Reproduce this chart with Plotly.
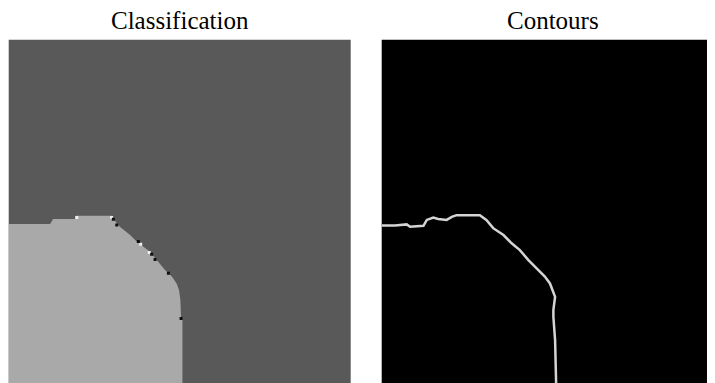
import plotly.graph_objects as go

# Image coordinates: 0..100 across each panel, v grows downward
# Classification: boundary of light class region (lower-left)
class_u = [0, 0, 12.1, 13.0, 19.4, 19.7, 30.1, 31.1, 32.5, 35.5, 37.4, 39.4, 41.3, 43.3,
           45.7, 47.7, 49.1, 49.8, 50.2, 50.4, 50.8, 50.8]
class_v = [100, 53.7, 53.7, 52.2, 52.2, 51.3, 51.3, 52.8, 54.5, 56.9, 58.8, 60.3, 61.8, 64.2,
           67.1, 69.0, 71.0, 72.9, 75.8, 81.1, 81.6, 100]

white_u = [19.9, 30.1, 38.6, 41.1]
white_v = [51.8, 51.8, 59.6, 62.0]
black_u = [30.6, 31.6, 37.9, 41.8, 42.8, 46.7, 50.4]
black_v = [52.3, 54.0, 58.8, 62.5, 64.0, 68.0, 81.2]

# Contour line
cont_u = [0, 3.9, 7.3, 8.3, 12.2, 13.2, 15.1, 16.5, 19.0, 20.5, 21.9, 28.7, 30.6, 32.6, 35.6,
          38.0, 40.4, 42.9, 45.3, 47.7, 49.2, 50.0, 50.7, 50.2, 50.2, 50.7, 51.0]
cont_v = [54.1, 54.1, 53.8, 54.5, 54.2, 52.5, 51.8, 52.2, 52.5, 51.6, 51.1, 51.1, 52.5, 54.9,
          56.9, 59.3, 61.3, 64.2, 66.6, 69.0, 71.0, 72.9, 74.9, 78.7, 80.7, 87.5, 100]

titles = ["Classification", "Contours"]

# page body has an 8px margin, so the figure is laid out 8px up/left
W, H = 707, 375
left1, right1 = 0.7, 342.7
left2 = 373.7
top = 31.7
panel_px = 342.0
title_mid = 12.5

fig = go.Figure()
fig.add_trace(go.Scatter(x=class_u, y=class_v, mode="lines", fill="toself",
                         fillcolor="#a9a9a9", line=dict(width=0, color="#a9a9a9"),
                         xaxis="x", yaxis="y", hoverinfo="skip", showlegend=False))
fig.add_trace(go.Scatter(x=white_u, y=white_v, mode="markers",
                         marker=dict(color="#f0f0f0", size=3, symbol="square"),
                         xaxis="x", yaxis="y", showlegend=False))
fig.add_trace(go.Scatter(x=black_u, y=black_v, mode="markers",
                         marker=dict(color="#101010", size=3, symbol="square"),
                         xaxis="x", yaxis="y", showlegend=False))
fig.add_trace(go.Scatter(x=cont_u, y=cont_v, mode="lines",
                         line=dict(color="#d4d4d4", width=2.5),
                         xaxis="x2", yaxis="y2", showlegend=False))

ydom = [0, (H - top) / H]
right_frac = (W - left2) / panel_px * 100
axis_common = dict(showgrid=False, zeroline=False, showticklabels=False, ticks="",
                   showline=False)
title_font = dict(family="Liberation Serif", size=25, color="black")
fig.update_layout(
    width=W, height=H, margin=dict(l=0, r=0, t=0, b=0),
    paper_bgcolor="white", plot_bgcolor="rgba(0,0,0,0)",
    xaxis=dict(domain=[left1 / W, right1 / W], range=[0, 100], **axis_common),
    yaxis=dict(domain=ydom, range=[100, 0], **axis_common),
    xaxis2=dict(domain=[left2 / W, 1], range=[0, right_frac], anchor="y2", **axis_common),
    yaxis2=dict(domain=ydom, range=[100, 0], anchor="x2", **axis_common),
    shapes=[
        dict(type="rect", xref="x domain", yref="y domain", x0=0, x1=1, y0=0, y1=1,
             fillcolor="#595959", line=dict(width=0), layer="below"),
        dict(type="rect", xref="x2 domain", yref="y2 domain", x0=0, x1=1, y0=0, y1=1,
             fillcolor="#000000", line=dict(width=0), layer="below"),
    ],
    annotations=[
        dict(text=titles[0], xref="paper", yref="paper", x=(left1 + right1) / 2 / W,
             xanchor="center", y=1 - title_mid / H, yanchor="middle", showarrow=False,
             borderpad=0, font=title_font),
        dict(text=titles[1], xref="paper", yref="paper", x=(left2 + panel_px / 2) / W,
             xanchor="center", y=1 - title_mid / H, yanchor="middle", showarrow=False,
             borderpad=0, font=title_font),
    ],
)
fig.write_html("out.html")
